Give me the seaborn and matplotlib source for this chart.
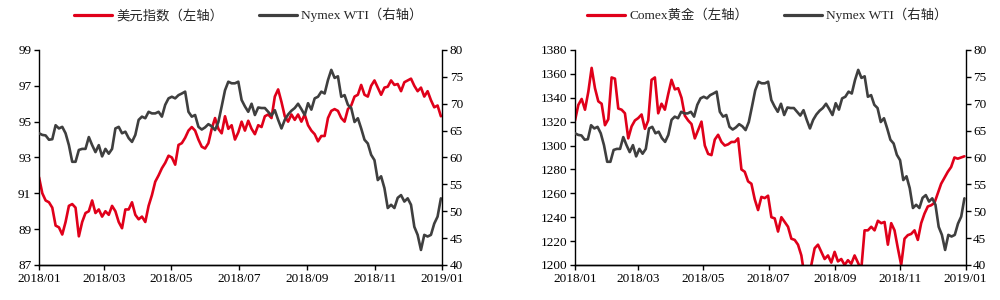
import numpy as np
import pandas as pd
import matplotlib
matplotlib.use("Agg")
import matplotlib.pyplot as plt
import matplotlib.dates as mdates
import seaborn as sns

# ---------------- data ----------------
dxy = [
    91.9, 91.0, 90.6, 90.5, 90.2, 89.2, 89.1, 88.7, 89.4, 90.3,
    90.4, 90.2, 88.6, 89.4, 89.9, 90.0, 90.6, 89.9, 90.1, 89.7,
    90.0, 89.8, 90.3, 90.0, 89.4, 89.05, 90.1, 90.1, 90.5, 89.8,
    89.55, 89.7, 89.4, 90.3, 90.9, 91.65, 92.0, 92.4, 92.7, 93.1,
    93.0, 92.6, 93.7, 93.8, 94.1, 94.5, 94.7, 94.5, 94.0, 93.6,
    93.5, 93.8, 94.6, 95.2, 94.6, 94.35, 95.3, 94.6, 94.8, 94.0,
    94.4, 95.0, 94.5, 95.05, 94.6, 94.3, 94.8, 94.7, 95.3, 95.4,
    95.2, 96.4, 96.8, 96.1, 95.3, 95.0, 95.4, 95.1, 95.4, 95.0,
    95.4,
    94.8, 94.5, 94.3, 93.9, 94.2, 94.2, 95.2, 95.6, 95.7, 95.6,
    95.2, 95.0, 95.7, 95.9, 96.4, 96.5, 97.05, 96.5, 96.4, 97.0,
    97.3, 96.9, 96.5, 96.9, 96.95, 97.3, 97.05, 97.1, 96.7, 97.2,
    97.3, 97.4, 97.0, 96.7, 96.9, 96.4, 96.7, 96.2, 95.8, 95.9,
    95.3,
]

wti = [
    64.5, 64.2, 64.1, 63.3, 63.4, 66.0, 65.4, 65.7, 64.5, 62.3,
    59.2, 59.2, 61.4, 61.6, 61.6, 63.8, 62.3, 61.0, 62.3, 60.2,
    61.6, 60.7, 61.6, 65.4, 65.7, 64.5, 64.8, 63.6, 62.9, 64.2,
    67.0, 67.6, 67.3, 68.5, 68.2, 68.2, 68.5, 67.6, 69.8, 71.0,
    71.3, 71.0, 71.6, 71.9, 72.25, 68.5, 67.6, 67.9, 65.7, 65.2,
    65.6, 66.2, 65.8, 65.1, 66.6, 69.5, 72.5, 74.1, 73.8, 73.8,
    74.1, 70.7, 69.5, 68.5, 70.0, 67.9, 69.3, 69.2, 69.2, 68.5,
    67.8, 68.8, 67.0, 65.4, 67.0, 68.0, 68.7, 69.2, 70.0, 69.0,
    67.9,
    70.1, 68.9, 71.0, 71.3, 72.25, 71.9, 74.4, 76.3, 74.8, 75.1,
    71.3, 71.6, 69.8, 69.2, 66.6, 67.3, 65.4, 63.3, 62.6, 60.5,
    59.5, 55.8, 56.5, 54.3, 50.6, 51.2, 50.6, 52.5, 53.0, 51.8,
    52.4, 51.2, 47.1, 45.6, 42.8, 45.6, 45.3, 45.6, 47.7, 49.0,
    52.4,
]

gold = [
    1321, 1334, 1339, 1330, 1345, 1365, 1348, 1337, 1335, 1317,
    1322, 1357, 1356, 1331, 1330, 1327, 1306, 1316, 1321, 1323,
    1326, 1314, 1321, 1355, 1357, 1327, 1335, 1330, 1343, 1355,
    1347, 1348, 1340, 1325, 1321, 1318, 1306, 1313,
    1320, 1300, 1293, 1292, 1305, 1309, 1303, 1300, 1301, 1303,
    1303, 1306, 1280, 1278, 1270, 1268, 1255, 1246, 1257, 1256,
    1258, 1240, 1239, 1228, 1240, 1236, 1232, 1222, 1221, 1217,
    1208, 1190, 1185, 1200, 1214, 1217, 1211, 1205, 1208, 1202,
    1211, 1203, 1205, 1200, 1204, 1201, 1208, 1202, 1196, 1229,
    1229, 1232, 1229, 1237, 1235, 1236, 1217, 1235, 1229, 1214,
    1200, 1222, 1225, 1226, 1229, 1221, 1235, 1243, 1249, 1250,
    1252, 1260, 1268, 1273, 1278, 1282, 1290, 1289, 1290, 1291,
]

start, end = "2018-01-01", "2018-12-31"
dxy_dates = pd.date_range(start, end, periods=len(dxy))
wti_dates = pd.date_range(start, end, periods=len(wti))
gold_dates = pd.date_range(start, end, periods=len(gold))

tick_dates = pd.date_range("2018-01-01", "2019-01-01", freq="2MS")

label_dxy = "美元指数（左轴）"
label_gold = "Comex黄金（左轴）"
label_wti = "Nymex WTI（右轴）"

# ---------------- style ----------------
sns.set_theme(style="ticks")
plt.rcParams["font.family"] = ["Liberation Serif", "Noto Sans CJK SC", "DejaVu Sans"]

RED = "#E0001A"
GREY = "#3F3F3F"
LW = 1.9

fig = plt.figure(figsize=(10, 3), dpi=100)
ax_l = fig.add_axes([0.039, 0.1167, 0.403, 0.7167])
ax_r = fig.add_axes([0.575, 0.1167, 0.3905, 0.7167])


def style_axis(ax):
    for s in ["left", "right", "bottom"]:
        ax.spines[s].set_color("black")
        ax.spines[s].set_linewidth(1.0)
    ax.spines["top"].set_visible(False)
    ax.tick_params(direction="out", length=3.5, width=1.0, colors="black",
                   labelsize=9.5, pad=2)
    ax.set_xlabel("")
    ax.set_ylabel("")
    ax.grid(False)


def panel(ax, dates, vals, label, ylim, yticks, wti_dates, wti_vals, legx):
    sns.lineplot(x=dates, y=vals, ax=ax, color=RED, linewidth=LW, label=label)
    ax.set_ylim(*ylim)
    ax.set_yticks(yticks)
    ax.set_xlim(pd.Timestamp("2018-01-01"), pd.Timestamp("2019-01-01"))
    ax.set_xticks(tick_dates)
    ax.xaxis.set_major_formatter(mdates.DateFormatter("%Y/%m"))
    style_axis(ax)
    ax.spines["right"].set_visible(False)

    ax2 = ax.twinx()
    sns.lineplot(x=wti_dates, y=wti_vals, ax=ax2, color=GREY, linewidth=LW,
                 label=label_wti)
    ax2.set_ylim(40, 80)
    ax2.set_yticks(np.arange(40, 81, 5))
    style_axis(ax2)
    ax2.spines["left"].set_visible(False)

    h1, l1 = ax.get_legend_handles_labels()
    h2, l2 = ax2.get_legend_handles_labels()
    if ax.get_legend():
        ax.get_legend().remove()
    leg = ax2.legend(h1 + h2, l1 + l2, loc="center",
                     bbox_to_anchor=(legx, 1.163), ncol=2, frameon=False,
                     fontsize=9.6, handlelength=2.8, handletextpad=0.35,
                     columnspacing=2.7)
    for line in leg.get_lines():
        line.set_linewidth(2.3)
    return ax2


panel(ax_l, dxy_dates, dxy, label_dxy, (87, 99), np.arange(87, 100, 2),
      wti_dates, wti, 0.52)
panel(ax_r, gold_dates, gold, label_gold, (1200, 1380),
      np.arange(1200, 1381, 20), wti_dates, wti, 0.493)

fig.savefig("out.png", dpi=100)
